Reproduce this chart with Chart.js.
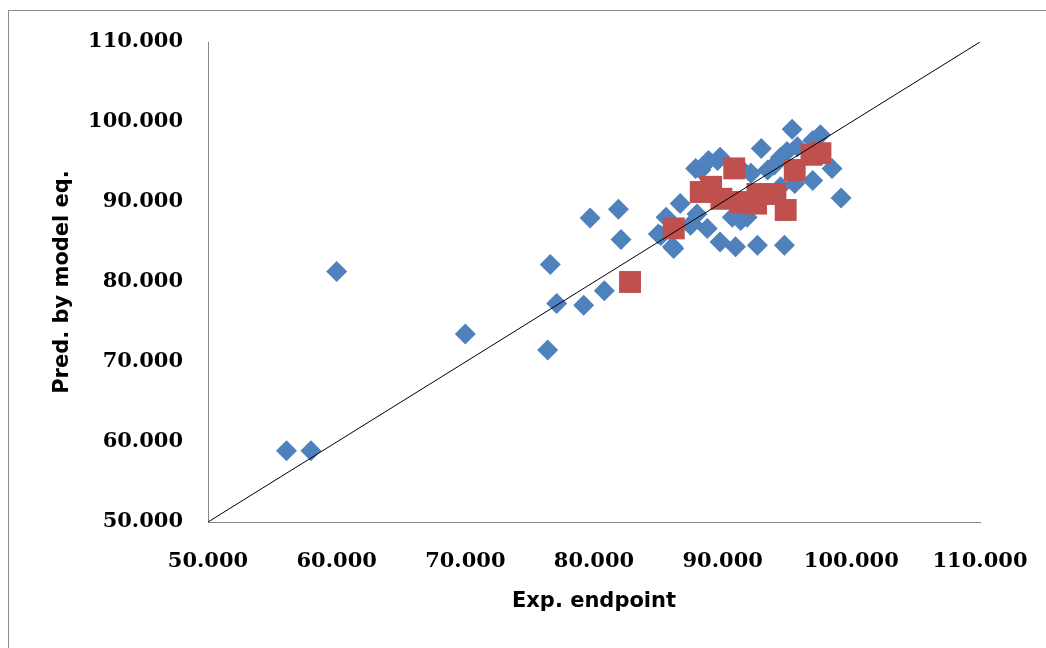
<!DOCTYPE html>
<html>
<head>
<meta charset="utf-8">
<script src="https://cdn.jsdelivr.net/npm/chart.js@4.4.1/dist/chart.umd.min.js"></script>
<style>
  html, body { margin: 0; padding: 0; background: #fff; overflow: hidden; }
  #frame { position: absolute; left: 8px; top: 10px; width: 1100px; height: 700px;
           border-top: 1px solid #8c8c8c; border-left: 1px solid #8c8c8c; }
  #wrap { position: absolute; left: 0; top: 0; width: 1046px; height: 648px; }
</style>
</head>
<body>
<div id="frame"></div>
<div id="wrap"><canvas id="myChart" width="1046" height="648"></canvas></div>
<script>
// training set (blue diamonds)
const trainX = [56.1, 58.0, 60.0, 70.0, 76.4, 76.6, 77.1, 79.2, 79.7, 80.8, 81.9, 82.1,
                85.6, 86.7, 85.0, 86.1, 85.2, 86.2, 88.3, 89.6, 87.9, 89.8, 88.9,
                88.8, 89.8, 91.0, 92.7, 94.8, 90.75, 91.9, 91.4, 87.6, 87.5,
                91.4, 94.0, 95.0, 95.8, 97.0, 95.4, 93.0, 97.6, 99.2, 98.5, 97.0,
                88.7, 93.0, 94.5, 95.6, 92.2, 93.5, 94.5, 88.0];
const trainY = [58.9, 58.9, 81.3, 73.5, 71.5, 82.2, 77.3, 77.1, 88.0, 78.9, 89.1, 85.3,
                88.1, 89.8, 86.0, 84.4, 85.8, 84.2, 94.0, 95.2, 94.2, 95.6, 95.2,
                86.7, 85.0, 84.4, 84.6, 84.6, 88.1, 88.1, 87.7, 87.3, 87.1,
                94.2, 94.6, 96.3, 96.9, 97.7, 99.1, 96.7, 98.4, 90.5, 94.2, 92.7,
                91.5, 90.2, 91.9, 92.3, 93.6, 94.0, 95.6, 88.5];

// test set (red squares)
const testX = [82.8, 86.2, 90.9, 88.3, 89.1, 89.9, 91.4, 92.6, 92.7, 94.1, 94.9, 95.6, 96.9, 97.6];
const testY = [80.0, 86.7, 94.2, 91.25, 91.9, 90.4, 90.0, 89.8, 91.0, 91.0, 89.0, 94.0, 95.9, 96.1];

// identity line
const lineX = [50, 110];
const lineY = [50, 110];

const axisMin = 50;
const axisMax = 110;
const axisStep = 10;

function pts(xs, ys) {
  return xs.map(function(x, i) { return {x: x, y: ys[i]}; });
}

const tickFontY = { family: "DejaVu Serif", size: 21, weight: "bold" };
// taller line height pushes x labels down without widening the right overflow
const tickFontX = { family: "DejaVu Serif", size: 21, weight: "bold", lineHeight: 2.25 };
const titleFont = { family: "DejaVu Sans", size: 21, weight: "bold" };

var ctx = document.getElementById('myChart');
var myChart = new Chart(ctx, {
  type: 'scatter',
  data: {
    datasets: [{
      type: 'line',
      data: pts(lineX, lineY),
      borderColor: '#000000',
      borderWidth: 1,
      pointRadius: 0,
      fill: false,
      order: 0
    }, {
      data: pts(testX, testY),
      pointStyle: 'rect',
      pointRadius: 15.5,
      pointHoverRadius: 15.5,
      backgroundColor: '#C0504D',
      borderWidth: 0,
      order: 1
    }, {
      data: pts(trainX, trainY),
      pointStyle: 'rectRot',
      pointRadius: 10.5,
      pointHoverRadius: 10.5,
      backgroundColor: '#4F81BD',
      borderWidth: 0,
      order: 2
    }]
  },
  options: {
    responsive: false,
    animation: false,
    layout: { padding: { left: 0, top: 42, right: 66, bottom: 0 } },
    plugins: { legend: { display: false }, tooltip: { enabled: false } },
    scales: {
      x: {
        type: 'linear',
        min: axisMin, max: axisMax,
        grid: { display: false, drawTicks: false },
        border: { display: true, color: '#868686', width: 1 },
        ticks: {
          stepSize: axisStep, autoSkip: false, maxRotation: 0,
          padding: 16, color: '#000000', font: tickFontX,
          callback: function(v) { return v.toFixed(3); }
        },
        title: { display: true, text: 'Exp. endpoint', color: '#000000', font: titleFont,
                 padding: { top: 0, bottom: 34 } },
        afterFit: function(s) { s.height = 126; }
      },
      y: {
        type: 'linear',
        min: axisMin, max: axisMax,
        grid: { display: false, drawTicks: false },
        border: { display: true, color: '#868686', width: 1 },
        ticks: {
          stepSize: axisStep, padding: 25, color: '#000000', font: tickFontY,
          callback: function(v) { return v.toFixed(3); }
        },
        title: { display: true, text: 'Pred. by model eq.', color: '#000000', font: titleFont,
                 padding: { top: 50, bottom: 0 } },
        afterFit: function(s) { s.width = 208; }
      }
    }
  }
});
</script>
</body>
</html>
